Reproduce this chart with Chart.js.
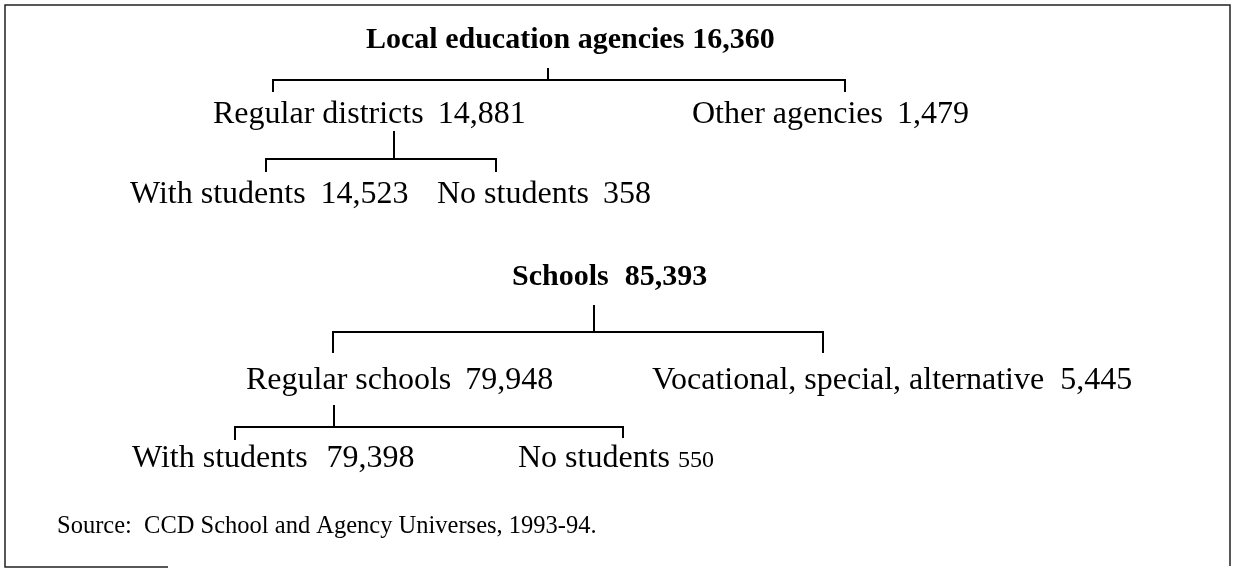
<!DOCTYPE html>
<html>
<head>
<meta charset="utf-8">
<script src="https://cdn.jsdelivr.net/npm/chart.js@4"></script>
<style>
  html, body { margin: 0; padding: 0; background: #ffffff; }
  #wrap { width: 1236px; height: 569px; }
  canvas { display: block; }
</style>
</head>
<body>
<div id="wrap"><canvas id="c" width="1236" height="569"></canvas></div>
<script>
// ---------------- Data ----------------
const agencyLabels = ["Local education agencies", "Regular districts", "Other agencies", "With students", "No students"];
const agencyCounts = [16360, 14881, 1479, 14523, 358];
const schoolLabels = ["Schools", "Regular schools", "Vocational, special, alternative", "With students", "No students"];
const schoolCounts = [85393, 79948, 5445, 79398, 550];
const sourceNote = "Source:  CCD School and Agency Universes, 1993-94.";

// ---------------- Layout (page units = pixels of the 1236x569 frame) ----------------
const W = 1236, H = 569;
const agencyLayout = [
  { x: 366, y: 48,  size: 30, bold: true,  gap: 8 },
  { x: 213, y: 123, size: 32, bold: false, gap: 14 },
  { x: 692, y: 123, size: 32, bold: false, gap: 14 },
  { x: 130, y: 203, size: 32, bold: false, gap: 15 },
  { x: 437, y: 203, size: 32, bold: false, gap: 14 }
];
const schoolLayout = [
  { x: 512, y: 285, size: 30, bold: true,  gap: 16 },
  { x: 246, y: 389, size: 32, bold: false, gap: 14 },
  { x: 652, y: 389, size: 32, bold: false, gap: 16 },
  { x: 132, y: 467, size: 32, bold: false, gap: 19 },
  { x: 518, y: 467, size: 32, bold: false, gap: 8, valueSize: 24 }
];
const sourceLayout = { x: 57, y: 533, size: 24.5 };

// bracket: parent tick (x, top..bar), bar y, left/right x, drop bottom
const brackets = [
  { tx: 548, top: 68,  bar: 80,  left: 273, right: 845, dropL: 92,  dropR: 92 },
  { tx: 394, top: 131, bar: 159, left: 266, right: 496, dropL: 172, dropR: 172 },
  { tx: 594, top: 305, bar: 332, left: 333, right: 823, dropL: 353, dropR: 353 },
  { tx: 334, top: 405, bar: 427, left: 235, right: 623, dropL: 440, dropR: 438 }
];
const frame = { l: 5, t: 5, r: 1230, b: 567, bottomEnd: 168 };

// ---------------- Build line datasets ----------------
function bracketPoints(b) {
  return [
    { x: b.tx, y: b.top }, { x: b.tx, y: b.bar }, { x: NaN, y: NaN },
    { x: b.left, y: b.dropL }, { x: b.left, y: b.bar }, { x: b.right, y: b.bar }, { x: b.right, y: b.dropR }
  ];
}
const lineStyle = { type: 'line', borderColor: '#000', borderWidth: 2, pointRadius: 0, fill: false, tension: 0, spanGaps: false };
const datasets = brackets.map(b => Object.assign({ data: bracketPoints(b) }, lineStyle));
datasets.push(Object.assign({}, lineStyle, {
  borderWidth: 1.5, borderColor: '#222',
  data: [
    { x: frame.bottomEnd, y: frame.b }, { x: frame.l, y: frame.b }, { x: frame.l, y: frame.t },
    { x: frame.r, y: frame.t }, { x: frame.r, y: frame.b - 1 }
  ]
}));

// ---------------- Text plugin ----------------
const fam = '"Liberation Serif", "Times New Roman", Times, serif';
const fmt = n => n.toLocaleString('en-US');
const textPlugin = {
  id: 'treeText',
  beforeDraw(chart) {
    const ctx = chart.ctx;
    ctx.save();
    ctx.fillStyle = '#fff';
    ctx.fillRect(0, 0, chart.width, chart.height);
    ctx.restore();
  },
  afterDatasetsDraw(chart) {
    const ctx = chart.ctx;
    const xs = chart.scales.x, ys = chart.scales.y;
    ctx.save();
    ctx.fillStyle = '#000';
    ctx.textBaseline = 'alphabetic';
    ctx.textAlign = 'left';
    function node(label, count, L) {
      const px = xs.getPixelForValue(L.x), py = ys.getPixelForValue(L.y);
      ctx.font = (L.bold ? 'bold ' : '') + L.size + 'px ' + fam;
      ctx.fillText(label, px, py);
      const w = ctx.measureText(label).width;
      ctx.font = (L.bold ? 'bold ' : '') + (L.valueSize || L.size) + 'px ' + fam;
      ctx.fillText(fmt(count), px + w + L.gap, py);
    }
    agencyLabels.forEach((l, i) => node(l, agencyCounts[i], agencyLayout[i]));
    schoolLabels.forEach((l, i) => node(l, schoolCounts[i], schoolLayout[i]));
    ctx.font = sourceLayout.size + 'px ' + fam;
    ctx.fillText(sourceNote, xs.getPixelForValue(sourceLayout.x), ys.getPixelForValue(sourceLayout.y));
    ctx.restore();
  }
};

new Chart(document.getElementById('c'), {
  type: 'scatter',
  data: { datasets },
  options: {
    responsive: false,
    devicePixelRatio: 1,
    animation: false,
    layout: { padding: 0 },
    plugins: { legend: { display: false }, tooltip: { enabled: false } },
    scales: {
      x: { type: 'linear', min: 0, max: W, display: false },
      y: { type: 'linear', min: 0, max: H, reverse: true, display: false }
    }
  },
  plugins: [textPlugin]
});
</script>
</body>
</html>
